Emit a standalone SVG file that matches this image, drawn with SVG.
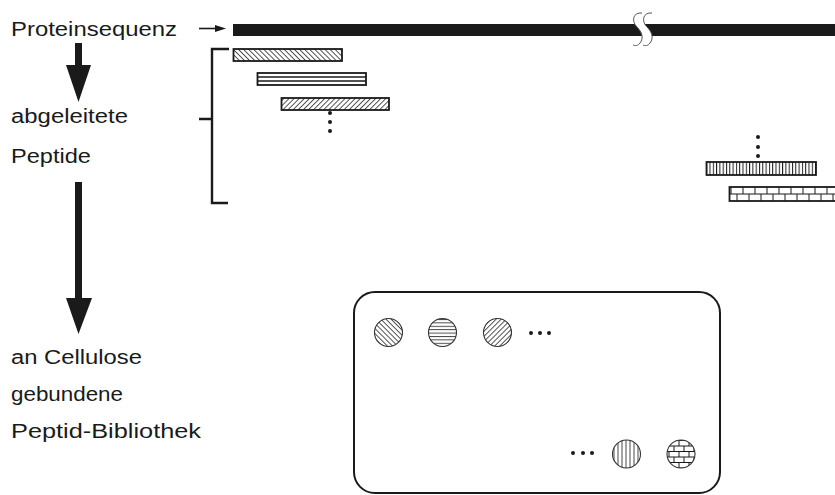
<svg xmlns="http://www.w3.org/2000/svg" width="835" height="495" viewBox="0 0 835 495">
<style>
  .lbl { font-family: "Liberation Sans", Arial, sans-serif; font-size: 20px; fill: #1a1a1a; }
  .bar { stroke: #1a1a1a; stroke-width: 1.8; }
  .circ { stroke: #333; stroke-width: 1.1; }
  .dot { fill: #1a1a1a; }
  .ln { stroke: #1a1a1a; fill: none; }
</style>
<defs>
  <pattern id="hBack" width="3.6" height="10" patternUnits="userSpaceOnUse" patternTransform="rotate(-45)">
    <rect width="3.6" height="10" fill="#fff"/>
    <line x1="0.5" y1="0" x2="0.5" y2="10" stroke="#333" stroke-width="0.9"/>
  </pattern>
  <pattern id="hFwd" width="3.6" height="10" patternUnits="userSpaceOnUse" patternTransform="rotate(45)">
    <rect width="3.6" height="10" fill="#fff"/>
    <line x1="0.5" y1="0" x2="0.5" y2="10" stroke="#333" stroke-width="0.9"/>
  </pattern>
  <pattern id="hHor" width="10" height="3.4" patternUnits="userSpaceOnUse" y="319">
    <rect width="10" height="3.4" fill="#fff"/>
    <line x1="0" y1="0.5" x2="10" y2="0.5" stroke="#333" stroke-width="0.9"/>
  </pattern>
  <pattern id="hVert" width="3.3" height="10" patternUnits="userSpaceOnUse">
    <rect width="3.3" height="10" fill="#fff"/>
    <line x1="0.5" y1="0" x2="0.5" y2="10" stroke="#1a1a1a" stroke-width="1"/>
  </pattern>
  <pattern id="hVertC" width="4" height="10" patternUnits="userSpaceOnUse" x="613">
    <rect width="4" height="10" fill="#fff"/>
    <line x1="1" y1="0" x2="1" y2="10" stroke="#333" stroke-width="0.9"/>
  </pattern>
  <pattern id="brickBar" width="12" height="14" patternUnits="userSpaceOnUse" x="729" y="187">
    <rect width="12" height="14" fill="#fff"/>
    <line x1="0" y1="7" x2="12" y2="7" stroke="#1a1a1a" stroke-width="1"/>
    <line x1="2" y1="0" x2="2" y2="7" stroke="#1a1a1a" stroke-width="1"/>
    <line x1="8" y1="7" x2="8" y2="14" stroke="#1a1a1a" stroke-width="1"/>
  </pattern>
  <pattern id="brickC" width="10" height="11" patternUnits="userSpaceOnUse" x="667" y="440">
    <rect width="10" height="11" fill="#fff"/>
    <line x1="0" y1="0.5" x2="10" y2="0.5" stroke="#1a1a1a" stroke-width="1"/>
    <line x1="0" y1="6" x2="10" y2="6" stroke="#1a1a1a" stroke-width="1"/>
    <line x1="2" y1="0.5" x2="2" y2="6" stroke="#1a1a1a" stroke-width="1"/>
    <line x1="7" y1="6" x2="7" y2="11" stroke="#1a1a1a" stroke-width="1"/>
  </pattern>
</defs>

<!-- labels -->
<g id="label-protein"><text class="lbl" x="11" y="36" textLength="166" lengthAdjust="spacingAndGlyphs">Proteinsequenz</text></g>
<g id="label-peptides">
  <text class="lbl" x="11" y="123" textLength="117" lengthAdjust="spacingAndGlyphs">abgeleitete</text>
  <text class="lbl" x="11" y="163" textLength="80" lengthAdjust="spacingAndGlyphs">Peptide</text>
</g>
<g id="label-library">
  <text class="lbl" x="11" y="364" textLength="131" lengthAdjust="spacingAndGlyphs">an Cellulose</text>
  <text class="lbl" x="11" y="401" textLength="112" lengthAdjust="spacingAndGlyphs">gebundene</text>
  <text class="lbl" x="11" y="438" textLength="190" lengthAdjust="spacingAndGlyphs">Peptid-Bibliothek</text>
</g>

<!-- protein sequence bar with break -->
<g id="protein-bar">
  <rect x="233" y="24" width="602" height="12" fill="#1a1a1a"/>
  <path d="M 642 13 C 633 12, 631 21, 637 27 C 642 32, 644 38, 640 43 C 638 46, 635 46, 633 45 L 643 45 C 645 46, 648 46, 650 43 C 654 38, 652 32, 647 27 C 641 21, 643 12, 652 13 Z" fill="#fff"/>
  <path d="M 642 13 C 633 12, 631 21, 637 27 C 642 32, 644 38, 640 43 C 638 46, 635 46, 633 45" fill="none" stroke="#555" stroke-width="1"/>
  <path d="M 652 13 C 643 12, 641 21, 647 27 C 652 32, 654 38, 650 43 C 648 46, 645 46, 643 45" fill="none" stroke="#555" stroke-width="1"/>
</g>

<!-- derived peptides -->
<g id="peptide-1"><rect class="bar" x="233.5" y="49" width="108.5" height="12" fill="url(#hBack)"/></g>
<g id="peptide-2">
  <rect class="bar" x="257.5" y="73" width="108.5" height="12" fill="#fff"/>
  <line class="ln" x1="257.5" y1="77" x2="366" y2="77" stroke-width="1.3"/>
  <line class="ln" x1="257.5" y1="81" x2="366" y2="81" stroke-width="1.3"/>
</g>
<g id="peptide-3"><rect class="bar" x="281.5" y="98" width="107.5" height="12" fill="url(#hFwd)"/></g>
<g id="dots-1">
  <circle class="dot" cx="330" cy="113" r="2"/>
  <circle class="dot" cx="330" cy="122" r="2"/>
  <circle class="dot" cx="330" cy="131" r="2"/>
</g>
<g id="dots-2">
  <circle class="dot" cx="758" cy="137" r="2"/>
  <circle class="dot" cx="758" cy="147" r="2"/>
  <circle class="dot" cx="758" cy="156" r="2"/>
</g>
<g id="peptide-4"><rect class="bar" x="706.5" y="162" width="109.5" height="13" fill="url(#hVert)"/></g>
<g id="peptide-5"><rect class="bar" x="729.5" y="187" width="110" height="14" fill="url(#brickBar)"/></g>

<!-- library -->
<g id="library">
  <rect x="354" y="292" width="366" height="201" rx="21" ry="21" fill="none" stroke="#1a1a1a" stroke-width="2"/>
  <circle class="circ" cx="388.5" cy="332.5" r="14" fill="url(#hBack)"/>
  <circle class="circ" cx="442.5" cy="332.5" r="14" fill="url(#hHor)"/>
  <circle class="circ" cx="497.5" cy="332.5" r="14" fill="url(#hFwd)"/>
  <circle class="dot" cx="531" cy="333" r="2"/>
  <circle class="dot" cx="540" cy="333" r="2"/>
  <circle class="dot" cx="549" cy="333" r="2"/>
  <circle class="dot" cx="573" cy="453" r="2"/>
  <circle class="dot" cx="583" cy="453" r="2"/>
  <circle class="dot" cx="592" cy="453" r="2"/>
  <circle class="circ" cx="626.5" cy="454" r="14" fill="url(#hVertC)"/>
  <circle class="circ" cx="681" cy="454" r="14" fill="url(#brickC)"/>
</g>

<!-- connectors -->
<g id="connectors">
  <line class="ln" x1="199" y1="28.5" x2="217" y2="28.5" stroke-width="1.6"/>
  <path d="M 215 25 L 226 28.5 L 215 32 Z" fill="#1a1a1a"/>
  <path d="M 229 49 L 212 49 L 212 203 L 228 203 M 199 119 L 212 119" class="ln" stroke-width="2.4"/>
  <rect x="75" y="43" width="7" height="23" fill="#1a1a1a"/>
  <path d="M 66 65 L 91 65 L 78.5 102 Z" fill="#1a1a1a"/>
  <rect x="75" y="182" width="7" height="117" fill="#1a1a1a"/>
  <path d="M 66 298 L 92 298 L 78.5 334 Z" fill="#1a1a1a"/>
</g>
</svg>
